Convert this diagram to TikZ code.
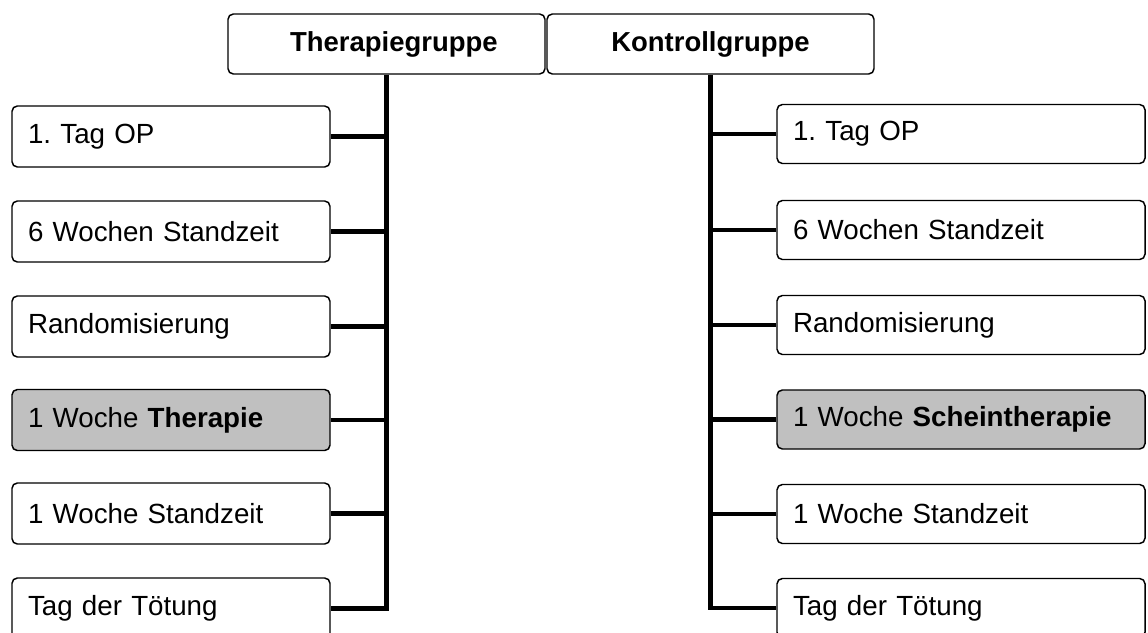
\documentclass[tikz,border=0pt]{standalone}
\usepackage{fontspec}
\setmainfont{Liberation Sans}
\definecolor{boxgray}{RGB}{192,192,192}
\frenchspacing
\begin{document}
\frenchspacing
\begin{tikzpicture}[x=0.75pt,y=-0.75pt,
  box/.style={draw=black, line width=1.1pt, rounded corners=4pt, fill=white,
    font=\fontsize{20.8}{24}\selectfont, inner xsep=12pt, inner ysep=0pt, align=left},
  lbox/.style={box, minimum height=45.75pt, text width=214.5pt},
  rbox/.style={box, minimum height=44.25pt, text width=252pt},
  hbox/.style={box, minimum height=45pt, inner xsep=0pt,
    font=\fontsize{20.6}{24}\selectfont\bfseries, align=center},
  shaded/.style={fill=boxgray},
  conn/.style={line width=3.6pt, line join=miter}]
\useasboundingbox (0,0) rectangle (1148,632);
\clip (0,0) rectangle (1148,632);
% headers
\node[hbox, minimum width=237.75pt, text width=237.75pt] (tg) at (386.5,44) {\hspace*{11pt}Therapiegruppe};
\node[hbox, minimum width=245.25pt, text width=245.25pt] (kg) at (710.5,44) {Kontrollgruppe};
% left column
\node[lbox] (l1) at (171,136.5) {1. Tag OP};
\node[lbox] (l2) at (171,231.5) {6 Wochen Standzeit};
\node[lbox] (l3) at (171,326.5) {Randomisierung};
\node[lbox, shaded] (l4) at (171,420) {1 Woche \textbf{Therapie}};
\node[lbox] (l5) at (171,513.5) {1 Woche Standzeit};
\node[lbox] (l6) at (171,608.5) {Tag der Tötung};
% right column
\node[rbox] (r1) at (961,134) {1. Tag OP};
\node[rbox] (r2) at (961,230) {6 Wochen Standzeit};
\node[rbox] (r3) at (961,325) {Randomisierung};
\node[rbox, shaded] (r4) at (961,419.5) {1 Woche \textbf{Scheintherapie}};
\node[rbox] (r5) at (961,514) {1 Woche Standzeit};
\node[rbox] (r6) at (961,608) {Tag der Tötung};
% connectors left
\draw[conn] (tg.south) |- (l6.east);
\foreach \n in {l1,l2,l3,l4,l5}
  \draw[conn] (\n.east) -- (\n.east -| tg.south);
% connectors right
\draw[conn] (kg.south) |- (r6.west);
\foreach \n in {r1,r2,r3,r4,r5}
  \draw[conn] (\n.west) -- (\n.west -| kg.south);
\end{tikzpicture}
\end{document}
